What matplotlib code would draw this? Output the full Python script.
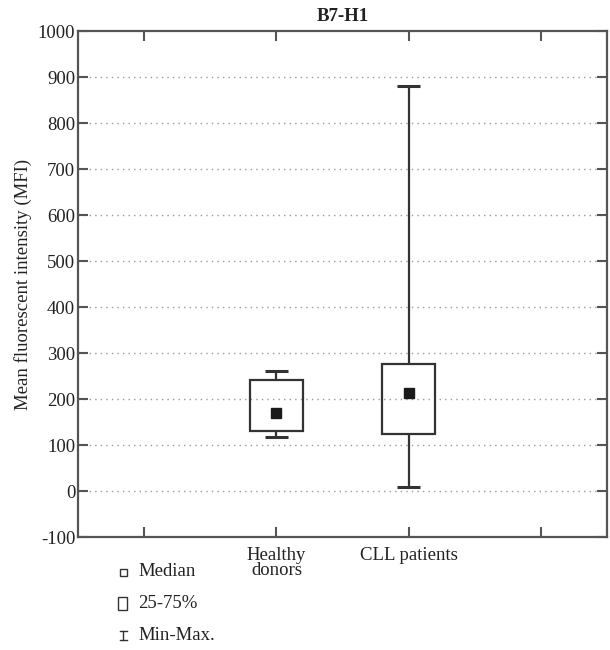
import matplotlib
matplotlib.use("Agg")
import matplotlib.pyplot as plt
from matplotlib.lines import Line2D
from matplotlib.patches import Rectangle

plt.rcParams['font.family'] = ['Liberation Serif', 'DejaVu Serif']

categories = ["Healthy\ndonors", "CLL patients"]
positions = [2, 3]
medians = [169, 212]
q1 = [130, 125]
q3 = [241, 277]
mins = [117, 9]
maxs = [261, 880]

title = "B7-H1"
ylabel = "Mean fluorescent intensity (MFI)"
yticks = list(range(-100, 1001, 100))
grid_vals = list(range(0, 901, 100))

dark = "#222222"
spine_c = "#555555"
fs = 13.5

fig = plt.figure(figsize=(6.1, 6.5), dpi=100)
ax = fig.add_axes([78/610, 1-537/650, (607-78)/610, (537-31)/650])

ax.set_xlim(0.5, 4.5)
ax.set_ylim(-100, 1000)

for g in grid_vals:
    ax.axhline(g, color="#999999", lw=1.0, ls=(0, (1, 3)), zorder=0)

box_w = 0.4
cap_w = 0.17
ax.bar(positions, [b - a for a, b in zip(q1, q3)], bottom=q1, width=box_w,
       fill=False, edgecolor="#333333", linewidth=1.6, zorder=3)
ax.vlines(positions, q3, maxs, color="#333333", lw=1.6, zorder=2)
ax.vlines(positions, mins, q1, color="#333333", lw=1.6, zorder=2)
ax.hlines(maxs, [p - cap_w/2 for p in positions], [p + cap_w/2 for p in positions],
          color="#333333", lw=2.2, zorder=2)
ax.hlines(mins, [p - cap_w/2 for p in positions], [p + cap_w/2 for p in positions],
          color="#333333", lw=2.2, zorder=2)
ax.plot(positions, medians, ls="none", marker="s", markersize=7,
        color="#1a1a1a", zorder=4)

ax.set_yticks(yticks)
ax.set_yticklabels([str(v) for v in yticks], fontsize=fs, color=dark)
ax.set_xticks([1, 2, 3, 4])
ax.set_xticklabels(["", categories[0], categories[1], ""], fontsize=fs,
                   color=dark, linespacing=0.85, va="top")
ax.tick_params(axis="both", direction="in", top=True, right=True,
               color=spine_c, width=1.5, length=7)
ax.tick_params(axis="y", pad=2)
ax.tick_params(axis="x", pad=7)
for s in ax.spines.values():
    s.set_color(spine_c)
    s.set_linewidth(1.6)

ax.set_title(title, fontsize=fs, fontweight="bold", color=dark, pad=7)
ax.set_ylabel(ylabel, fontsize=fs, color=dark, labelpad=4)

# legend below the axes
def fx(px):
    return px / 610

def fy(py):
    return 1 - py / 650

fig.add_artist(Rectangle((fx(119.5), fy(575.5)), 7/610, 7/650, fill=False,
                         edgecolor="#333333", lw=1.0, transform=fig.transFigure))
fig.add_artist(Rectangle((fx(118), fy(610)), 9/610, 13/650, fill=False,
                         edgecolor="#333333", lw=1.0, transform=fig.transFigure))
fig.add_artist(Line2D([fx(123), fx(123)], [fy(631), fy(640)], color="#333333",
                      lw=1.0, transform=fig.transFigure))
fig.add_artist(Line2D([fx(119.5), fx(126.5)], [fy(631), fy(631)], color="#333333",
                      lw=1.0, transform=fig.transFigure))
fig.add_artist(Line2D([fx(119.5), fx(126.5)], [fy(640), fy(640)], color="#333333",
                      lw=1.0, transform=fig.transFigure))
for label, py in [("Median", 572), ("25-75%", 604), ("Min-Max.", 636)]:
    fig.text(fx(138), fy(py), label, fontsize=fs, color=dark, va="center", ha="left")

fig.savefig("out.png", dpi=100)
